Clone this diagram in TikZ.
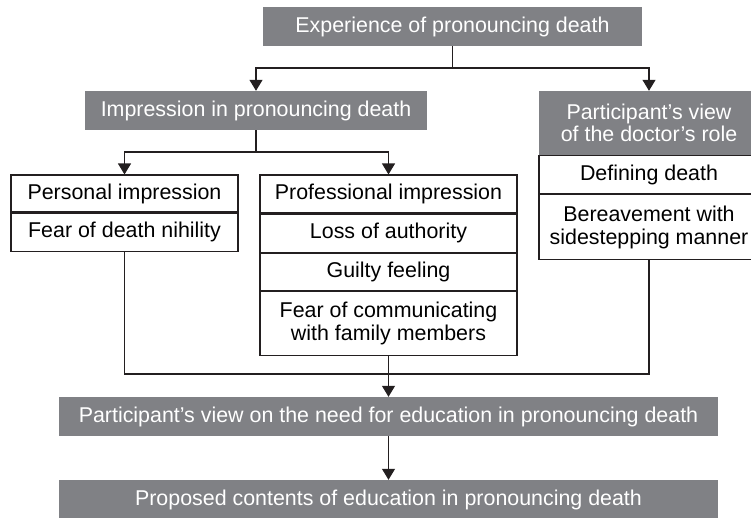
\documentclass[tikz,border=0pt]{standalone}
\usepackage{fontspec}
\setmainfont{Liberation Sans}
\usetikzlibrary{positioning,arrows.meta}
\definecolor{boxgray}{RGB}{128,129,133}
\definecolor{linegray}{RGB}{35,31,32}

\begin{document}
\begin{tikzpicture}[x=1pt,y=-1pt,
  font=\fontsize{21.4}{22.5}\selectfont,
  every node/.style={inner sep=0pt, align=center},
  graybox/.style={fill=boxgray, text=white, minimum height=39pt},
  cellbox/.style={draw=linegray, line width=1.1pt, fill=white, minimum height=38pt},
  link/.style={draw=linegray, line width=1.1pt},
  arrowlink/.style={link, -{Triangle[length=11pt,width=13pt]}}]
\clip (0,0) rectangle (751,517);
% top level
\node[graybox, minimum width=379pt] (exp) at (452.5,26.5) {Experience of pronouncing death};
\node[graybox, minimum width=342pt] (imp) at (256,110.5) {Impression in pronouncing death};
\node[graybox, minimum width=220pt, minimum height=64pt] (role) at (649,123) {Participant’s view\\of the doctor’s role};
\node[cellbox, minimum width=220pt, below=0pt of role] (defn) {Defining death};
\node[cellbox, minimum width=220pt, minimum height=65pt, below=0pt of defn] (berv) {Bereavement with\\sidestepping manner};
% impressions
\node[cellbox, minimum width=227pt, minimum height=37pt] (pers) at (124.5,193.5) {Personal impression};
\node[cellbox, minimum width=227pt, below=0pt of pers] (fear) {Fear of death nihility};
\node[cellbox, minimum width=257pt] (prof) at (388.5,194) {Professional impression};
\node[cellbox, minimum width=257pt, below=0pt of prof] (loss) {Loss of authority};
\node[cellbox, minimum width=257pt, minimum height=37pt, below=0pt of loss] (guilt) {Guilty feeling};
\node[cellbox, minimum width=257pt, minimum height=64pt, below=0pt of guilt] (comm) {Fear of communicating\\with family members};
% education
\node[graybox, minimum width=659pt] (need) at (388.5,416.5) {Participant’s view on the need for education in pronouncing death};
\node[graybox, minimum width=659pt] (prop) at (388.5,499.5) {Proposed contents of education in pronouncing death};
% connectors
\draw[link] (exp.south) -- (exp.south |- 0,68) coordinate (fork1);
\draw[arrowlink] (fork1) -| (imp.north);
\draw[arrowlink] (fork1) -| (role.north);
\draw[link] (imp.south) -- (imp.south |- 0,152) coordinate (fork2);
\draw[arrowlink] (fork2) -| (pers.north);
\draw[arrowlink] (fork2) -| (prof.north);
\coordinate (join) at (comm.south |- 0,374);
\draw[link] (fear.south) |- (join) -| (berv.south);
\draw[link] (comm.south) -- (join);
\draw[arrowlink] (join) -- (need.north);
\draw[arrowlink] (need.south) -- (prop.north);
\end{tikzpicture}
\end{document}
